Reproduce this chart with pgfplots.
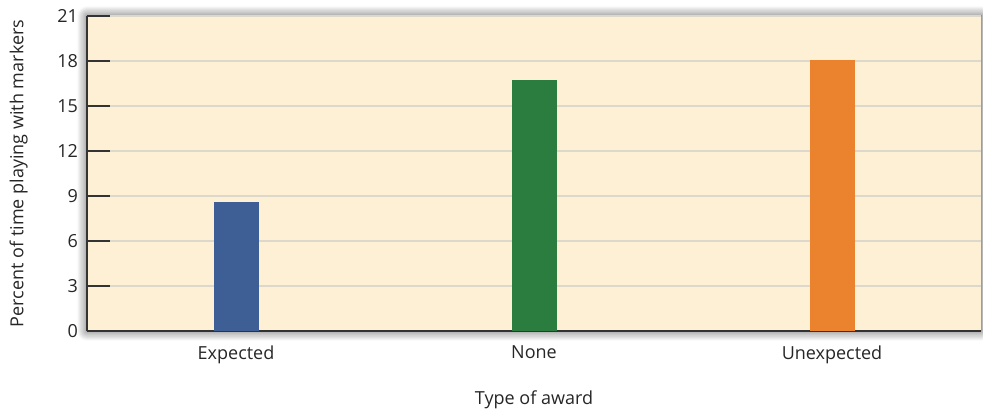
\documentclass[border=0pt]{standalone}
\usepackage{pgfplots}
\pgfplotsset{compat=1.18}
\usepackage{fontspec}
\setmainfont{Open Sans}
\usetikzlibrary{shadows.blur}
\definecolor{bgc}{HTML}{FDF0D5}
\definecolor{gridc}{HTML}{DCD8CC}
\definecolor{cblue}{HTML}{3D5F96}
\definecolor{cgreen}{HTML}{2A7D3F}
\definecolor{corange}{HTML}{EB832E}
\begin{document}
\begin{tikzpicture}[x=1pt,y=1pt]
\begin{axis}[
  scale only axis,
  width=447pt, height=157.5pt,
  xmin=-0.5, xmax=2.5,
  ymin=0, ymax=21,
  ytick={0,3,...,21},
  xtick={0,1,2},
  xticklabels={Expected,None,Unexpected},
  major x tick style={draw=none},
  ytick style={draw=black!80, line width=0.8pt},
  tick align=inside,
  major tick length=11.5pt,
  ymajorgrids,
  major grid style={draw=gridc, line width=0.8pt},
  axis x line*=bottom,
  axis y line*=left,
  axis line style={-, draw=black!80, line width=0.9pt},
  axis background/.style={fill=bgc, blur shadow={shadow blur steps=10, shadow xshift=0pt, shadow yshift=0pt, shadow blur radius=5pt, shadow opacity=70}},
  tick label style={font=\fontsize{9}{11}\selectfont, text=black!85},
  /pgf/number format/assume math mode=true,
  yticklabel style={xshift=-1pt},
  xticklabel style={yshift=7.5pt},
  xlabel={Type of award},
  ylabel={Percent of time playing with markers},
  label style={font=\fontsize{9}{11}\selectfont, text=black!85},
  xlabel style={yshift=-6.5pt},
  ylabel style={yshift=8pt},
  ybar, bar width=22.5pt, bar shift=0pt,
]
\addplot[fill=cblue, draw=none] coordinates {(0,8.58)};
\addplot[fill=cgreen, draw=none] coordinates {(1,16.73)};
\addplot[fill=corange, draw=none] coordinates {(2,18.07)};
\end{axis}
\path (current axis.south west) ++(-43.5pt,-39pt) coordinate (bbA);
\path (current axis.north east) ++(1pt,8pt) coordinate (bbB);
\useasboundingbox (bbA) rectangle (bbB);
\end{tikzpicture}
\end{document}
